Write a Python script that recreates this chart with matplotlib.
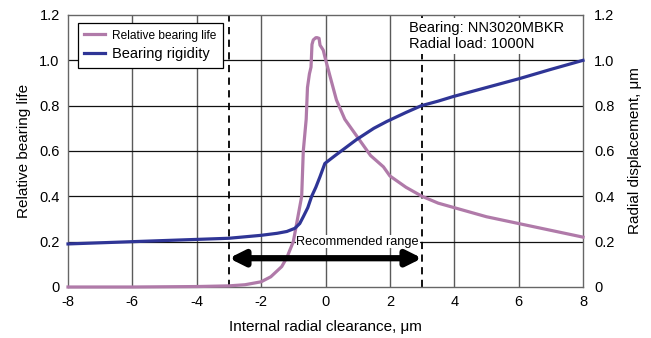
import matplotlib
matplotlib.use("Agg")
import matplotlib.pyplot as plt
from matplotlib import font_manager

life_x = [-8, -6, -4, -3, -2.5, -2.0, -1.7, -1.36, -1.2, -1.0, -0.87, -0.74, -0.69, -0.6, -0.56, -0.5,
          -0.45, -0.42, -0.38, -0.3, -0.26, -0.2, -0.17, -0.07, -0.02, 0.14, 0.34, 0.6, 1.0, 1.4, 1.8,
          2.0, 2.5, 3.0, 3.5, 4.0, 5.0, 6.0, 7.0, 8.0]
life_y = [0, 0, 0.002, 0.005, 0.01, 0.023, 0.045, 0.09, 0.13, 0.2, 0.3, 0.4, 0.6, 0.74, 0.88, 0.94,
          0.97, 1.07, 1.09, 1.10, 1.10, 1.097, 1.067, 1.045, 1.016, 0.93, 0.825, 0.74, 0.66, 0.58, 0.53,
          0.49, 0.44, 0.40, 0.37, 0.35, 0.31, 0.28, 0.25, 0.22]

rig_x = [-8, -6, -4, -3, -2, -1.5, -1.2, -0.95, -0.8, -0.69, -0.55, -0.43, -0.3, -0.17, -0.02, 0.3,
         0.96, 1.5, 1.9, 2.5, 2.98, 3.5, 3.96, 5.0, 6.04, 7.0, 8.0]
rig_y = [0.19, 0.20, 0.21, 0.215, 0.228, 0.237, 0.245, 0.259, 0.28, 0.31, 0.35, 0.40, 0.44, 0.487,
         0.545, 0.58, 0.65, 0.70, 0.73, 0.77, 0.80, 0.82, 0.84, 0.88, 0.92, 0.96, 1.0]

x_ticks = [-8, -6, -4, -2, 0, 2, 4, 6, 8]
y_ticks = [0, 0.2, 0.4, 0.6, 0.8, 1.0, 1.2]
y_ticklabels = ["0", "0.2", "0.4", "0.6", "0.8", "1.0", "1.2"]
range_lo, range_hi = -3, 3

plt.rcParams['font.family'] = ['Liberation Sans', 'DejaVu Sans']
plt.rcParams['axes.unicode_minus'] = False

names = {f.name for f in font_manager.fontManager.ttflist}
if 'Liberation Sans Narrow' in names:
    NARROW = ['Liberation Sans Narrow', 'Liberation Sans']
    leg_fs, rec_fs = 10.5, 10.0
else:
    NARROW = ['Liberation Sans', 'DejaVu Sans']
    leg_fs, rec_fs = 8.6, 9.2

PINK = "#b07aa9"
BLUE = "#2f3596"

fig = plt.figure(figsize=(6.51, 3.38), dpi=100)
ax = fig.add_axes([68/651, 1-287/338, 515/651, 272/338])
ax.set_xlim(-8, 8)
ax.set_ylim(0, 1.2)

for xv in x_ticks[1:-1]:
    ax.axvline(xv, color="#5a5a5a", lw=1.0, zorder=1)
for yv in y_ticks[1:-1]:
    ax.axhline(yv, color="#111111", lw=0.9, zorder=1)

for s in ax.spines.values():
    s.set_color("#666666")
    s.set_linewidth(1.0)

ax.set_xticks(x_ticks)
ax.set_yticks(y_ticks)
ax.set_yticklabels(y_ticklabels)
ax.tick_params(length=0, labelsize=10.5, pad=6)

for xv in (range_lo, range_hi):
    ax.axvline(xv, color="black", lw=1.3, ls=(0, (4, 3)), zorder=2)

l1, = ax.plot(life_x, life_y, color=PINK, lw=2.3, zorder=4, clip_on=False,
              label="Relative bearing life")
l2, = ax.plot(rig_x, rig_y, color=BLUE, lw=2.3, zorder=4, clip_on=False,
              label="Bearing rigidity")

ax.annotate("", xy=(range_lo, 0.127), xytext=(range_hi, 0.127),
            arrowprops=dict(arrowstyle="<|-|>,head_length=0.9,head_width=0.45",
                            color="black", lw=4.5, shrinkA=0, shrinkB=0), zorder=5)
ax.text(1.0, 0.2, "Recommended range", ha="center", va="center", fontsize=rec_fs,
        family=NARROW,
        bbox=dict(facecolor="white", edgecolor="none", pad=0.5), zorder=3)

ax.text(2.6, 1.175, "Bearing: NN3020MBKR\nRadial load: 1000N", ha="left", va="top",
        fontsize=10.5, linespacing=1.25,
        bbox=dict(facecolor="white", edgecolor="none", pad=2), zorder=3)

leg = ax.legend(handles=[l1, l2], loc="upper left", bbox_to_anchor=(0.019, 0.972),
                frameon=True, fancybox=False, edgecolor="black", framealpha=1,
                fontsize=10.5, handlelength=1.4, handletextpad=0.5, borderpad=0.45,
                labelspacing=0.35, borderaxespad=0)
leg.get_frame().set_linewidth(0.9)
leg.set_zorder(6)
t0 = leg.get_texts()[0]
t0.set_fontfamily(NARROW)
t0.set_fontsize(leg_fs)

ax.set_xlabel("Internal radial clearance, μm", fontsize=11, labelpad=8)
ax.set_ylabel("Relative bearing life", fontsize=11, labelpad=6)

ax2 = ax.twinx()
ax2.set_ylim(0, 1.2)
ax2.set_yticks(y_ticks)
ax2.set_yticklabels(y_ticklabels)
ax2.tick_params(length=0, labelsize=10.5, pad=8)
for s in ax2.spines.values():
    s.set_visible(False)
ax2.set_ylabel("Radial displacement, μm", fontsize=11, labelpad=10)

fig.savefig("out.png", dpi=100)
